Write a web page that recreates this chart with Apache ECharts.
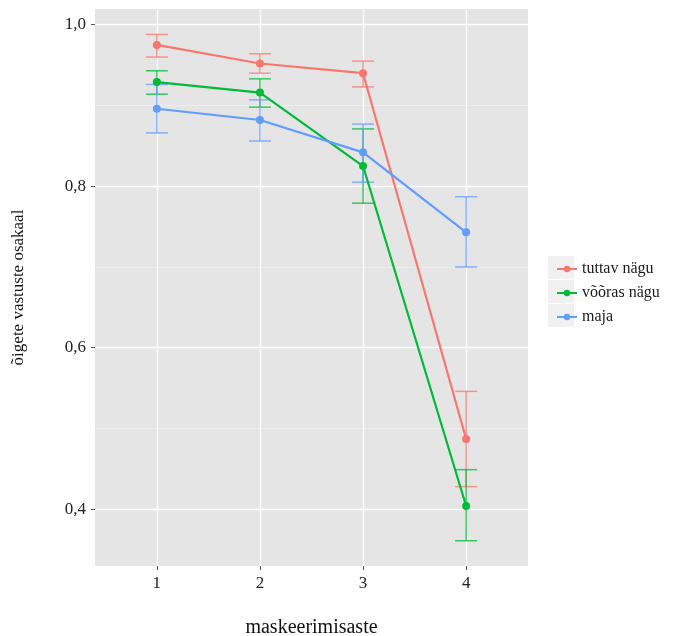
<!DOCTYPE html>
<html>
<head>
<meta charset="utf-8">
<script src="https://cdn.jsdelivr.net/npm/echarts@6/dist/echarts.min.js"></script>
<style>
body { margin: 0; background: #fff; }
#chart { width: 688px; height: 636px; }
</style>
</head>
<body>
<div id="chart"></div>
<script>
var levels = [1, 2, 3, 4]
var yTicks = [0.4, 0.6, 0.8, 1.0]
var yMinor = [0.5, 0.7, 0.9]
var seriesNames = ['tuttav nägu', 'võõras nägu', 'maja']
var colors = ['#F8766D', '#00BA38', '#619CFF']

// keskmised ja vearibade otsad
var tuttavMean = [0.975, 0.952, 0.940, 0.487]
var tuttavLow = [0.960, 0.940, 0.923, 0.428]
var tuttavHigh = [0.988, 0.964, 0.955, 0.546]

var voorasMean = [0.929, 0.916, 0.825, 0.404]
var voorasLow = [0.914, 0.898, 0.779, 0.361]
var voorasHigh = [0.943, 0.933, 0.871, 0.449]

var majaMean = [0.896, 0.882, 0.842, 0.743]
var majaLow = [0.866, 0.856, 0.805, 0.700]
var majaHigh = [0.926, 0.907, 0.877, 0.787]

var means = [tuttavMean, voorasMean, majaMean]
var lows = [tuttavLow, voorasLow, majaLow]
var highs = [tuttavHigh, voorasHigh, majaHigh]

var font = 'Liberation Serif'

function comma (v) {
  return v.toFixed(1).replace('.', ',')
}

var series = []
// jooned enne, et legend võtaks joone ikooni
seriesNames.forEach(function (name, i) {
  series.push({
    name: name,
    type: 'line',
    symbol: 'circle',
    symbolSize: 8,
    showSymbol: true,
    itemStyle: { color: colors[i] },
    lineStyle: { color: colors[i], width: 2.2 },
    emphasis: { disabled: true },
    data: levels.map(function (l, j) { return [l, means[i][j]] }),
    z: 3
  })
})
seriesNames.forEach(function (name, i) {
  series.push({
    name: name,
    type: 'custom',
    silent: true,
    itemStyle: { color: colors[i] },
    renderItem: function (params, api) {
      var x = api.value(0)
      var lo = api.coord([x, api.value(1)])
      var hi = api.coord([x, api.value(2)])
      var half = 11
      var style = { stroke: colors[i], lineWidth: 1.5, opacity: 0.75 }
      return {
        type: 'group',
        children: [
          { type: 'line', shape: { x1: lo[0], y1: lo[1], x2: hi[0], y2: hi[1] }, style: style },
          { type: 'line', shape: { x1: lo[0] - half, y1: lo[1], x2: lo[0] + half, y2: lo[1] }, style: style },
          { type: 'line', shape: { x1: hi[0] - half, y1: hi[1], x2: hi[0] + half, y2: hi[1] }, style: style }
        ]
      }
    },
    data: levels.map(function (l, j) { return [l, lows[i][j], highs[i][j]] }),
    z: 2
  })
})

// abitelg kõrvaljoonte jaoks
series.push({
  type: 'line',
  yAxisIndex: 1,
  data: []
})

var option = {
  animation: false,
  textStyle: { fontFamily: font },
  graphic: [0, 1, 2].map(function (k) {
    return {
      type: 'rect',
      left: 548,
      top: 256 + k * 24,
      shape: { width: 26, height: 23 },
      style: { fill: '#f0f0f0' },
      z: -1
    }
  }),
  grid: {
    left: 95,
    top: 9,
    width: 433,
    height: 557,
    show: true,
    backgroundColor: '#e5e5e5',
    borderWidth: 0,
    outerBoundsMode: 'none'
  },
  legend: {
    data: seriesNames,
    orient: 'vertical',
    left: 551,
    top: 256,
    itemWidth: 20,
    itemHeight: 8,
    itemGap: 8,
    textStyle: { fontFamily: font, fontSize: 16, color: '#1a1a1a' }
  },
  xAxis: {
    type: 'value',
    min: 0.4,
    max: 4.6,
    name: 'maskeerimisaste',
    nameLocation: 'middle',
    nameGap: 52,
    nameTextStyle: { fontFamily: font, fontSize: 20, color: '#111' },
    axisLine: { show: false },
    axisTick: { show: true, length: 4, lineStyle: { color: '#555' }, customValues: levels },
    axisLabel: { customValues: levels, margin: 9, fontFamily: font, fontSize: 17, color: '#222' },
    splitLine: { show: true, lineStyle: { color: '#ffffff', width: 1.3 } }
  },
  yAxis: [
    {
      type: 'value',
      min: 0.3297,
      max: 1.0195,
      name: 'õigete vastuste osakaal',
      nameLocation: 'middle',
      nameGap: 68,
      nameTextStyle: { fontFamily: font, fontSize: 17, color: '#111' },
      axisLine: { show: false },
      axisTick: { show: true, length: 4, lineStyle: { color: '#555' }, customValues: yTicks },
      axisLabel: { customValues: yTicks, margin: 9, fontFamily: font, fontSize: 17, color: '#222', formatter: comma },
      splitLine: { show: true, lineStyle: { color: '#ffffff', width: 1.3 } }
    },
    {
      type: 'value',
      min: 0.3297,
      max: 1.0195,
      show: true,
      position: 'left',
      axisLine: { show: false },
      axisTick: { show: false, customValues: yMinor },
      axisLabel: { show: false, customValues: yMinor },
      splitLine: { show: true, lineStyle: { color: '#f2f2f2', width: 0.7 } }
    }
  ],
  series: series
}

var chart = echarts.init(document.getElementById('chart'), null, { renderer: 'canvas' })
chart.setOption(option)
</script>
</body>
</html>
